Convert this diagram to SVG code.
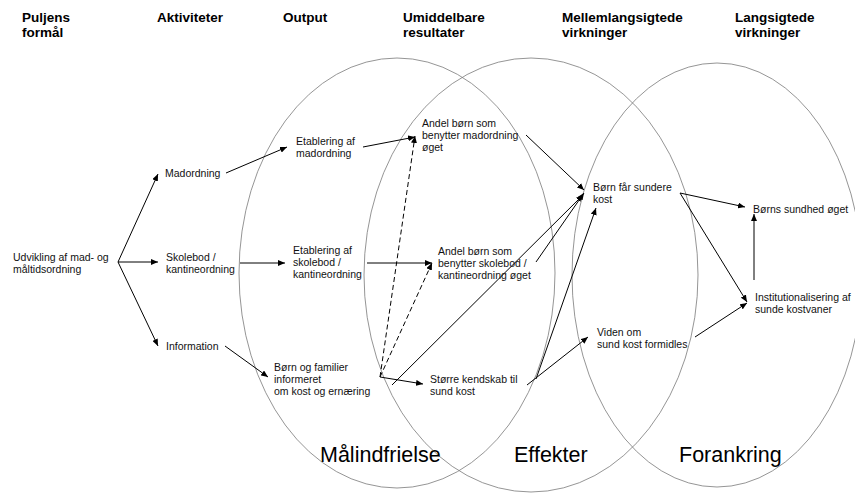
<svg xmlns="http://www.w3.org/2000/svg" width="855" height="493" viewBox="0 0 855 493">
<style>
  .hdr{font-family:"Liberation Sans",Arial,sans-serif;font-size:13.5px;font-weight:bold;fill:#000}
  .t{font-family:"Liberation Sans",Arial,sans-serif;font-size:10.5px;fill:#111}
  .big{font-family:"Liberation Sans",Arial,sans-serif;font-size:21.5px;fill:#000}
  .ell{fill:none;stroke:#7a7a7a;stroke-width:0.8}
  .c{fill:none;stroke:#000;stroke-width:1;marker-end:url(#ah)}
  .d{stroke-dasharray:5,3}
</style>
<defs>
  <marker id="ah" markerUnits="userSpaceOnUse" markerWidth="8" markerHeight="6" refX="7" refY="3" orient="auto">
    <path d="M0,0 L7,3 L0,6 z" fill="#000"/>
  </marker>
</defs>
<rect width="855" height="493" fill="#fff"/>
<g id="areas">
  <ellipse class="ell" cx="397" cy="273" rx="158" ry="215"/>
  <ellipse class="ell" cx="531" cy="275" rx="167" ry="217"/>
  <ellipse class="ell" cx="717" cy="275" rx="145" ry="212"/>
  <text class="big" x="320" y="462">Målindfrielse</text>
  <text class="big" x="514" y="462">Effekter</text>
  <text class="big" x="679" y="462">Forankring</text>
</g>
<g id="headers">
  <text class="hdr" x="22" y="22">Puljens</text>
  <text class="hdr" x="22" y="37">formål</text>
  <text class="hdr" x="157" y="22">Aktiviteter</text>
  <text class="hdr" x="283" y="22">Output</text>
  <text class="hdr" x="403" y="22">Umiddelbare</text>
  <text class="hdr" x="403" y="37">resultater</text>
  <text class="hdr" x="562" y="22">Mellemlangsigtede</text>
  <text class="hdr" x="562" y="37">virkninger</text>
  <text class="hdr" x="735" y="22">Langsigtede</text>
  <text class="hdr" x="735" y="37">virkninger</text>
</g>
<g id="connectors">
  <line class="c" x1="118" y1="262" x2="158" y2="174"/>
  <line class="c" x1="118" y1="262" x2="158" y2="262"/>
  <line class="c" x1="118" y1="262" x2="158" y2="346"/>
  <line class="c" x1="226" y1="173" x2="287" y2="147"/>
  <line class="c" x1="240" y1="263" x2="285" y2="263"/>
  <line class="c" x1="225" y1="346" x2="268" y2="377"/>
  <line class="c" x1="363" y1="147" x2="415" y2="137"/>
  <line class="c" x1="367" y1="263" x2="432" y2="263"/>
  <line class="c d" x1="380" y1="377" x2="415" y2="136"/>
  <line class="c d" x1="380" y1="377" x2="432" y2="263"/>
  <line class="c" x1="380" y1="377" x2="423" y2="384"/>
  <line class="c" x1="392" y1="385" x2="583" y2="195"/>
  <line class="c" x1="526" y1="135" x2="584" y2="190"/>
  <line class="c" x1="536" y1="262" x2="584" y2="193"/>
  <line class="c" x1="536" y1="379" x2="596" y2="208"/>
  <line class="c" x1="527" y1="385" x2="588" y2="337"/>
  <line class="c" x1="680" y1="193" x2="745" y2="207"/>
  <line class="c" x1="680" y1="193" x2="747" y2="302"/>
  <line class="c" x1="695" y1="337" x2="747" y2="303"/>
  <line class="c" x1="754" y1="280" x2="754" y2="214"/>
</g>
<g id="purpose">
  <text class="t" x="13" y="261">Udvikling af mad- og</text>
  <text class="t" x="13" y="273">måltidsordning</text>
</g>
<g id="act-madordning"><text class="t" x="165" y="177">Madordning</text></g>
<g id="act-skolebod">
  <text class="t" x="166" y="261">Skolebod /</text>
  <text class="t" x="166" y="273">kantineordning</text>
</g>
<g id="act-information"><text class="t" x="166" y="350">Information</text></g>
<g id="out-madordning">
  <text class="t" x="296" y="145">Etablering af</text>
  <text class="t" x="296" y="157">madordning</text>
</g>
<g id="out-skolebod">
  <text class="t" x="293" y="254">Etablering af</text>
  <text class="t" x="293" y="266">skolebod /</text>
  <text class="t" x="293" y="278">kantineordning</text>
</g>
<g id="out-information">
  <text class="t" x="274" y="371">Børn og familier</text>
  <text class="t" x="274" y="383">informeret</text>
  <text class="t" x="274" y="395">om kost og ernæring</text>
</g>
<g id="res-madordning">
  <text class="t" x="422" y="127">Andel børn som</text>
  <text class="t" x="422" y="139">benytter madordning</text>
  <text class="t" x="422" y="151">øget</text>
</g>
<g id="res-skolebod">
  <text class="t" x="438" y="255">Andel børn som</text>
  <text class="t" x="438" y="267">benytter skolebod /</text>
  <text class="t" x="438" y="279">kantineordning øget</text>
</g>
<g id="res-kendskab">
  <text class="t" x="430" y="383">Større kendskab til</text>
  <text class="t" x="430" y="395">sund kost</text>
</g>
<g id="mid-kost">
  <text class="t" x="593" y="191">Børn får sundere</text>
  <text class="t" x="593" y="203">kost</text>
</g>
<g id="mid-viden">
  <text class="t" x="597" y="336">Viden om</text>
  <text class="t" x="597" y="348">sund kost formidles</text>
</g>
<g id="long-sundhed"><text class="t" x="753" y="213">Børns sundhed øget</text></g>
<g id="long-institution">
  <text class="t" x="755" y="301">Institutionalisering af</text>
  <text class="t" x="755" y="313">sunde kostvaner</text>
</g>
</svg>
